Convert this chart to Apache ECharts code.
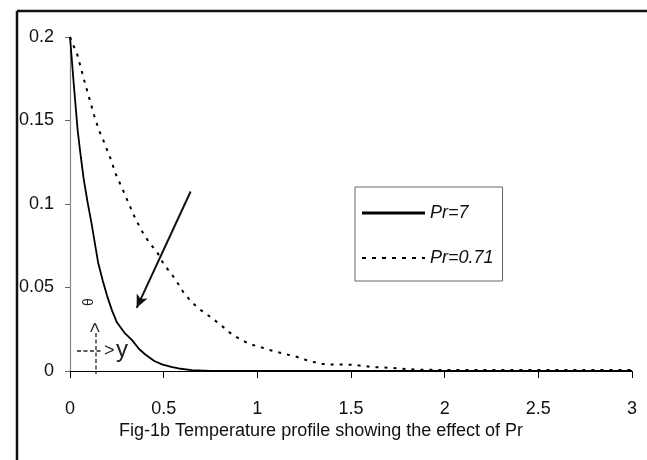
<!DOCTYPE html>
<html>
<head>
<meta charset="utf-8">
<script src="https://cdn.jsdelivr.net/npm/echarts@6/dist/echarts.min.js"></script>
<style>
  html, body { margin: 0; padding: 0; background: #fff; }
  #chart { width: 647px; height: 460px; }
</style>
</head>
<body>
<div id="chart"></div>
<script>
// Dimensionless temperature theta against distance y, for two Prandtl numbers
const seriesNames = ['Pr=7', 'Pr=0.71'];

const pr7Y     = [0, 0.02, 0.041, 0.058, 0.073, 0.094, 0.114, 0.132, 0.15, 0.175, 0.198, 0.225, 0.251, 0.29, 0.331, 0.37, 0.402, 0.45, 0.491, 0.54, 0.58, 0.65, 0.75, 1, 1.5, 2, 2.5, 3];
const pr7Theta = [0.2, 0.172, 0.144, 0.128, 0.115, 0.101, 0.089, 0.077, 0.065, 0.054, 0.045, 0.036, 0.029, 0.023, 0.0185, 0.013, 0.0099, 0.006, 0.004, 0.0025, 0.0015, 0.0005, 0, 0, 0, 0, 0, 0];

const pr071Y     = [0, 0.04, 0.076, 0.129, 0.155, 0.182, 0.217, 0.244, 0.28, 0.342, 0.377, 0.422, 0.466, 0.5, 0.528, 0.562, 0.606, 0.651, 0.704, 0.766, 0.811, 0.864, 0.908, 0.962, 1.015, 1.059, 1.112, 1.21, 1.264, 1.317, 1.37, 1.44, 1.51, 1.566, 1.62, 1.71, 1.76, 1.85, 2, 2.5, 3];
const pr071Theta = [0.2, 0.189, 0.174, 0.153, 0.144, 0.137, 0.127, 0.118, 0.109, 0.093, 0.085, 0.077, 0.071, 0.064, 0.06, 0.055, 0.047, 0.041, 0.036, 0.031, 0.027, 0.022, 0.019, 0.016, 0.0144, 0.0128, 0.0112, 0.0085, 0.0064, 0.0049, 0.0039, 0.0039, 0.0037, 0.003, 0.0023, 0.0019, 0.0015, 0.0008, 0.0006, 0.0006, 0.0006];

// Axis ranges and tick steps
const xMin = 0, xMax = 3, xStep = 0.5;
const yMin = 0, yMax = 0.2, yStep = 0.05;

// Direction arrow (increasing Pr), given in data units
const arrowFrom = [0.644, 0.1075];
const arrowTo   = [0.356, 0.0378];

const captionText = 'Fig-1b Temperature profile showing the effect of Pr';

const FONT = "'Liberation Sans', Arial, sans-serif";
const FS = 18;

const zip = (xs, ys) => xs.map((x, i) => [x, ys[i]]);

// Legend keys: a solid bar, and a row of short dashes padded to the same 63x3 box
const solidKey = 'path://M0 0h63v3h-63z';
let dashSegments = 'M0 0h0.01v0.01h-0.01zM62.99 2.99h0.01v0.01h-0.01z';
for (let i = 0; i < 7; i++) {
  const w = i === 6 ? 3 : 4;
  dashSegments += 'M' + (i * 10) + ' 0.5h' + w + 'v2h-' + w + 'z';
}
const dottedKey = 'path://' + dashSegments;

const chart = echarts.init(document.getElementById('chart'), null, { renderer: 'canvas' });

chart.setOption({
  animation: false,
  backgroundColor: '#fff',
  grid: { left: 70, right: 15, top: 37, bottom: 89, containLabel: false },
  xAxis: {
    type: 'value',
    min: xMin, max: xMax, interval: xStep,
    axisLine: { show: true, lineStyle: { color: '#000', width: 1 } },
    axisTick: { show: true, length: 7, lineStyle: { color: '#000' } },
    axisLabel: { margin: 29, fontSize: FS, fontFamily: FONT, color: '#111' },
    splitLine: { show: false }
  },
  yAxis: {
    type: 'value',
    min: yMin, max: yMax, interval: yStep,
    axisLine: { show: true, lineStyle: { color: '#888', width: 1.2 } },
    axisTick: { show: true, length: 5, lineStyle: { color: '#666' } },
    axisLabel: { margin: 16, fontSize: FS, fontFamily: FONT, color: '#111' },
    splitLine: { show: false }
  },
  legend: {
    orient: 'vertical',
    left: 355, top: 187,
    padding: [17, 9, 14, 7],
    itemGap: 27,
    itemWidth: 63, itemHeight: 3,
    borderColor: '#666', borderWidth: 1,
    backgroundColor: '#fff',
    textStyle: { fontFamily: FONT, fontSize: FS, fontStyle: 'italic', color: '#111' },
    data: [
      { name: seriesNames[0], icon: solidKey, itemStyle: { color: '#000' } },
      { name: seriesNames[1], icon: dottedKey, itemStyle: { color: '#000' } }
    ]
  },
  series: [
    {
      name: seriesNames[0],
      type: 'line',
      data: zip(pr7Y, pr7Theta),
      symbol: 'none',
      smooth: false,
      color: '#000',
      lineStyle: { color: '#000', width: 1.8 },
      z: 2,
      markLine: {
        silent: true,
        symbol: ['none', 'arrow'],
        symbolSize: [9, 13],
        label: { show: false },
        lineStyle: { color: '#111', width: 2, type: 'solid' },
        data: [[{ coord: arrowFrom }, { coord: arrowTo }]]
      }
    },
    {
      name: seriesNames[1],
      type: 'line',
      data: zip(pr071Y, pr071Theta),
      symbol: 'none',
      smooth: false,
      color: '#000',
      lineStyle: { color: '#000', width: 2, type: [3, 6] },
      z: 3
    }
  ],
  graphic: [
    // figure frame: only its top and left edges fall inside the view
    {
      type: 'line', z: -10, silent: true,
      shape: { x1: 17, y1: 11, x2: 647, y2: 11 },
      style: { stroke: '#111', lineWidth: 2.5 }
    },
    {
      type: 'line', z: -10, silent: true,
      shape: { x1: 17, y1: 11, x2: 17, y2: 460 },
      style: { stroke: '#111', lineWidth: 2.5 }
    },
    // figure caption
    {
      type: 'text', x: 321, y: 431, silent: true,
      style: { text: captionText, fontSize: FS, fontFamily: FONT, fill: '#111', align: 'center', verticalAlign: 'middle' }
    },
    // small coordinate sketch: y to the right, theta upward
    {
      type: 'line', silent: true,
      shape: { x1: 77, y1: 351, x2: 103, y2: 351 },
      style: { stroke: '#222', lineWidth: 1.3, lineDash: [4, 2.5] }
    },
    {
      type: 'line', silent: true,
      shape: { x1: 96, y1: 333, x2: 96, y2: 374 },
      style: { stroke: '#222', lineWidth: 1.3, lineDash: [4, 2.5] }
    },
    {
      type: 'text', x: 104, y: 351, silent: true,
      style: { text: '>', fontSize: 18, fontFamily: FONT, fill: '#222', align: 'left', verticalAlign: 'middle' }
    },
    {
      type: 'text', x: 96.5, y: 333, rotation: Math.PI / 2, silent: true,
      style: { text: '>', fontSize: 18, fontFamily: FONT, fill: '#222', align: 'left', verticalAlign: 'middle' }
    },
    {
      type: 'text', x: 116, y: 350, silent: true,
      style: { text: 'y', fontSize: 24, fontFamily: FONT, fill: '#222', align: 'left', verticalAlign: 'middle' }
    },
    {
      type: 'text', x: 89.5, y: 302, rotation: Math.PI / 2, silent: true,
      style: { text: 'θ', fontSize: 14, fontFamily: FONT, fill: '#222', align: 'center', verticalAlign: 'middle' }
    }
  ]
});
</script>
</body>
</html>
